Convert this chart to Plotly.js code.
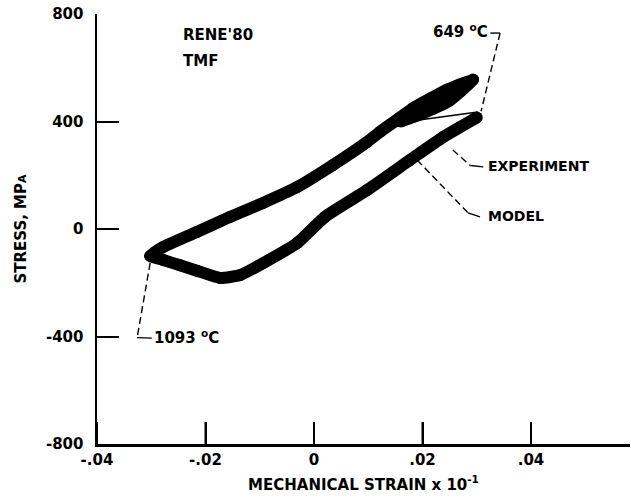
<!DOCTYPE html>
<html>
<head>
<meta charset="utf-8">
<script src="https://cdn.plot.ly/plotly-3.0.1.min.js"></script>
<style>
  html, body { margin: 0; padding: 0; background: #fff; }
  #chart { width: 631px; height: 502px; }
</style>
</head>
<body>
<div id="chart"></div>
<script>
// Rene' 80 thermomechanical fatigue hysteresis loop (stress vs. mechanical strain x 10^-1)

// Experimental loop: from the 649 C end down the compressive branch to the 1093 C end,
// then back up the tensile branch (the tip band is traced out and back)
const expStrain = [0.0300, 0.0270, 0.0238, 0.0177, 0.0098, 0.0020, -0.0031, -0.0094, -0.0136,
                   -0.0173, -0.0216, -0.0247, -0.0278, -0.0302, -0.0278, -0.0216, -0.0155,
                   -0.0094, -0.0031, 0.0035, 0.0098, 0.0122, 0.0159, 0.0183, 0.0215, 0.0245,
                   0.0293, 0.0250, 0.0200, 0.0160];
const expStress = [415, 380, 342, 257, 145, 45, -52, -127, -171,
                   -182, -155, -135, -115, -100, -67, -11, 45,
                   97, 156, 238, 324, 362, 415, 450, 486, 518,
                   556, 478, 430, 400];

// Model prediction
const modelStrain = [-0.0300, -0.0278, -0.0216, -0.0155, -0.0094, -0.0031, 0.0035, 0.0098,
                     0.0150, 0.0180, 0.0302, 0.0270, 0.0238, 0.0177, 0.0098, 0.0020,
                     -0.0031, -0.0094, -0.0136, -0.0173, -0.0216, -0.0247, -0.0300];
const modelStress = [-100, -67, -11, 45, 97, 156, 238, 320,
                     380, 402, 435, 385, 342, 257, 145, 45,
                     -52, -127, -171, -182, -155, -135, -100];

// Axis ticks
const xTickVals = [-0.04, -0.02, 0, 0.02, 0.04];
const xTickText = ['-.04', '-.02', '0', '.02', '.04'];
const yTickVals = [-800, -400, 0, 400, 800];
const yTickText = ['-800', '-400', '0', '400', '800'];

const FONT = '"DejaVu Sans", sans-serif';
const INK = '#000';
const baseFont = { family: FONT, size: 15, color: INK, weight: 'bold' };
const calloutFont = { family: FONT, size: 14, color: INK, weight: 'bold' };

const PLOT_H = 502 - 14 - 58;   // plot-area height in px
const TICK_LEN = 22;

const traces = [
  {
    name: 'EXPERIMENT',
    x: expStrain, y: expStress,
    type: 'scatter', mode: 'lines+markers',
    line: { color: INK, width: 12, shape: 'spline', smoothing: 0.5 },
    marker: { color: INK, size: 12 },
    hoverinfo: 'x+y'
  },
  {
    name: 'MODEL',
    x: modelStrain, y: modelStress,
    type: 'scatter', mode: 'lines',
    line: { color: INK, width: 1.5 },
    hoverinfo: 'x+y'
  }
];

// Dashed leader lines for the callouts
const dash = { color: INK, width: 1.4, dash: '7px,4px' };
const solid = { color: INK, width: 1.4 };
const shapes = [
  // 649 C
  { type: 'line', xref: 'x', yref: 'y', x0: 0.0325, y0: 729, x1: 0.0343, y1: 729, line: solid },
  { type: 'line', xref: 'x', yref: 'y', x0: 0.0343, y0: 729, x1: 0.0308, y1: 438, line: dash },
  // EXPERIMENT
  { type: 'line', xref: 'x', yref: 'y', x0: 0.0256, y0: 294, x1: 0.0288, y1: 236, line: dash },
  { type: 'line', xref: 'x', yref: 'y', x0: 0.0288, y0: 236, x1: 0.0312, y1: 231, line: solid },
  // MODEL
  { type: 'line', xref: 'x', yref: 'y', x0: 0.0190, y0: 257, x1: 0.0284, y1: 60, line: dash },
  { type: 'line', xref: 'x', yref: 'y', x0: 0.0284, y0: 60, x1: 0.0306, y1: 45, line: solid },
  // 1093 C
  { type: 'line', xref: 'x', yref: 'y', x0: -0.0302, y0: -126, x1: -0.0326, y1: -404, line: dash },
  { type: 'line', xref: 'x', yref: 'y', x0: -0.0326, y0: -404, x1: -0.0299, y1: -406, line: solid }
];

// Upward tick marks on the strain axis
xTickVals.forEach(function (v) {
  shapes.push({
    type: 'line', xref: 'x', yref: 'paper',
    x0: v, x1: v, y0: 0, y1: TICK_LEN / PLOT_H,
    line: { color: INK, width: 2 }
  });
});

const annotations = [
  { text: "RENE'80", x: -0.0245, y: 722, xanchor: 'left', yanchor: 'middle', showarrow: false, font: baseFont },
  { text: 'TMF', x: -0.0245, y: 626, xanchor: 'left', yanchor: 'middle', showarrow: false, font: baseFont },
  { text: '649 <sup>o</sup>C', x: 0.0324, y: 735, xanchor: 'right', yanchor: 'middle', showarrow: false, font: baseFont },
  { text: 'EXPERIMENT', x: 0.0317, y: 234, xanchor: 'left', yanchor: 'middle', showarrow: false, font: calloutFont },
  { text: 'MODEL', x: 0.0317, y: 47, xanchor: 'left', yanchor: 'middle', showarrow: false, font: calloutFont },
  { text: '1093 <sup>o</sup>C', x: -0.0299, y: -400, xanchor: 'left', yanchor: 'middle', showarrow: false, font: baseFont }
];

const layout = {
  width: 631, height: 502,
  margin: { l: 97, r: 1, t: 14, b: 58, pad: 0 },
  paper_bgcolor: '#fff', plot_bgcolor: '#fff',
  showlegend: false,
  font: baseFont,
  xaxis: {
    range: [-0.04, 0.05825],
    tickvals: xTickVals, ticktext: xTickText,
    ticks: 'inside', ticklen: TICK_LEN, tickwidth: 2, tickcolor: INK,
    showline: true, linewidth: 2.5, linecolor: INK,
    showgrid: false, zeroline: false,
    tickfont: baseFont,
    title: { text: 'MECHANICAL STRAIN x 10<sup>-1</sup>', standoff: 12, font: baseFont }
  },
  yaxis: {
    range: [-800, 800],
    tickvals: yTickVals, ticktext: yTickText,
    ticks: 'inside', ticklen: TICK_LEN, tickwidth: 2, tickcolor: INK,
    ticklabelstandoff: 8,
    showline: true, linewidth: 2.5, linecolor: INK,
    showgrid: false, zeroline: false,
    tickfont: baseFont,
    title: { text: 'STRESS, MP<span style="font-size:11px">A</span>', standoff: 16, font: baseFont }
  },
  shapes: shapes,
  annotations: annotations
};

Plotly.newPlot('chart', traces, layout, { displayModeBar: false, staticPlot: true });
</script>
</body>
</html>
